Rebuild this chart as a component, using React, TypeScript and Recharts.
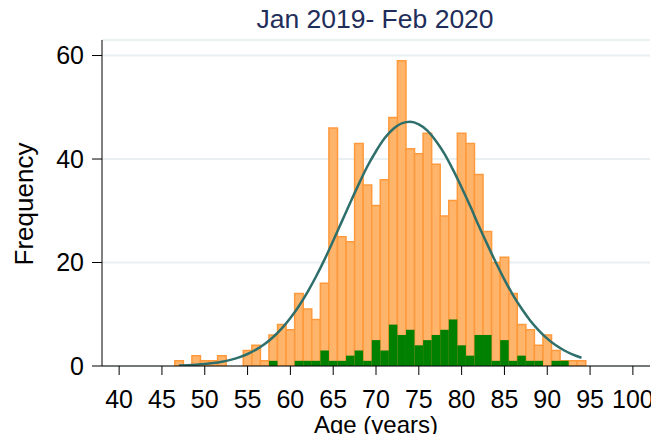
import { Bar, CartesianGrid, ComposedChart, Line, XAxis, YAxis } from "recharts";

// ages in whole years, one bin per year
const ages = [
  47, 48, 49, 50, 51, 52, 53, 54, 55, 56, 57, 58, 59, 60, 61, 62, 63, 64, 65, 66, 67, 68, 69, 70,
  71, 72, 73, 74, 75, 76, 77, 78, 79, 80, 81, 82, 83, 84, 85, 86, 87, 88, 89, 90, 91, 92, 93, 94,
];

// all cases (orange)
const allCounts = [
  1, 0, 2, 1, 1, 2, 0, 0, 3, 4, 1, 6, 8, 7, 14, 11, 9, 16, 46, 25, 24, 43, 35, 31,
  36, 48, 59, 42, 41, 45, 39, 29, 32, 45, 43, 37, 26, 20, 21, 14, 8, 7, 4, 6, 3, 1, 1, 1,
];

// subset (green)
const subsetCounts = [
  0, 0, 0, 0, 0, 0, 0, 0, 0, 0, 0, 1, 0, 0, 1, 1, 1, 3, 1, 1, 2, 3, 1, 5,
  3, 8, 6, 7, 4, 5, 6, 7, 9, 4, 2, 6, 6, 1, 5, 1, 2, 1, 1, 0, 1, 1, 0, 0,
];

// normal density overlay
const normalCurve = [
  0.1, 0.16, 0.25, 0.38, 0.57, 0.83, 1.19, 1.67, 2.32, 3.17, 4.24, 5.6, 7.26, 9.26, 11.6, 14.3,
  17.3, 20.6, 24.2, 27.9, 31.6, 35.2, 38.6, 41.5, 44.0, 45.8, 46.9, 47.2, 46.7, 45.5, 43.5, 41.0,
  37.9, 34.5, 30.9, 27.1, 23.5, 20.0, 16.7, 13.7, 11.1, 8.8, 6.9, 5.3, 4.0, 3.0, 2.2, 1.6,
];

const xTicks = [40, 45, 50, 55, 60, 65, 70, 75, 80, 85, 90, 95, 100];
const yTicks = [0, 20, 40, 60];

const FONT = '"Liberation Sans", Arial, sans-serif';
const W = 651;
const H = 426;

const data = ages.map((age, i) => ({
  age,
  all: allCounts[i],
  subset: subsetCounts[i],
  curve: normalCurve[i],
}));

export default function App() {
  return (
    // 8px taller than the chart, pulled back with a negative margin so the page does not scroll
    <div style={{ position: "relative", width: W, height: H + 8, marginBottom: -8, fontFamily: FONT }}>
      <ComposedChart
        width={W}
        height={H}
        data={data}
        margin={{ top: 32, right: 9, bottom: 0, left: 0 }}
        style={{ overflow: "visible" }}
      >
        <CartesianGrid vertical={false} stroke="#e9f0f2" strokeWidth={2} />
        <XAxis
          dataKey="age"
          type="number"
          domain={[38, 102]}
          ticks={xTicks}
          interval={0}
          allowDataOverflow
          height={68}
          tickSize={9}
          tickMargin={15}
          stroke="#000"
          tick={{ fill: "#000", fontSize: 25, fontFamily: FONT }}
        />
        <XAxis xAxisId="g" dataKey="age" type="number" domain={[38, 102]} ticks={xTicks} hide />
        <YAxis
          type="number"
          domain={[0, 63]}
          ticks={yTicks}
          allowDataOverflow
          width={94}
          tickSize={10}
          tickMargin={8}
          stroke="#000"
          tick={{ fill: "#000", fontSize: 25, fontFamily: FONT }}
        />
        <Bar
          dataKey="all"
          fill="#ffb46c"
          stroke="#ff9a3c"
          strokeWidth={1.5}
          barSize={8.56}
          isAnimationActive={false}
        />
        <Bar
          dataKey="subset"
          xAxisId="g"
          fill="#008000"
          barSize={8.56}
          isAnimationActive={false}
        />
        <Line
          dataKey="curve"
          type="monotone"
          stroke="#2f6f6b"
          strokeWidth={2.5}
          dot={false}
          isAnimationActive={false}
        />
      </ComposedChart>
      {/* titles, drawn in page coordinates */}
      <svg
        width={659}
        height={442}
        style={{ position: "absolute", left: -8, top: -8, pointerEvents: "none" }}
      >
        <text x={375} y={28} textAnchor="middle" fontSize={26.5} fill="#1f2d5a" fontFamily={FONT}>
          Jan 2019- Feb 2020
        </text>
        <text x={376} y={433} textAnchor="middle" fontSize={24} fill="#000" fontFamily={FONT}>
          Age (years)
        </text>
        <text
          x={33}
          y={204}
          textAnchor="middle"
          fontSize={26}
          fill="#000"
          fontFamily={FONT}
          transform="rotate(-90 33 204)"
        >
          Frequency
        </text>
      </svg>
    </div>
  );
}
